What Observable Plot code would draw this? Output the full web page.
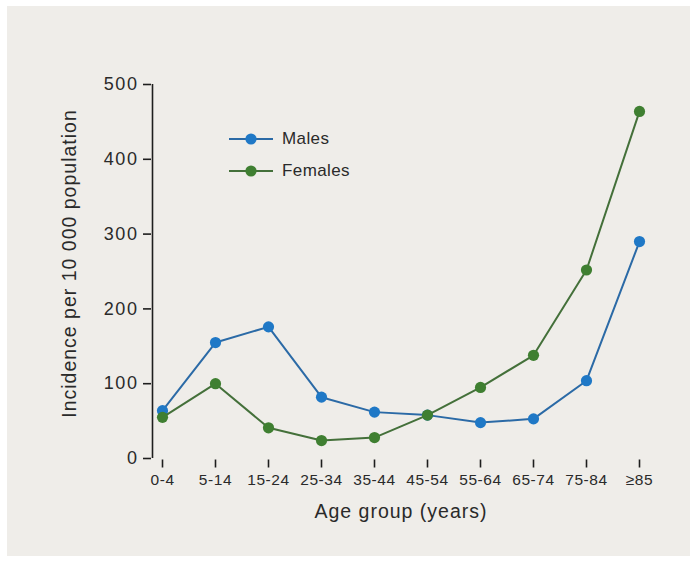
<!DOCTYPE html>
<html><head><meta charset="utf-8">
<script src="https://cdn.jsdelivr.net/npm/d3@7"></script>
<script src="https://cdn.jsdelivr.net/npm/@observablehq/plot@0.6"></script>
<style>
body{margin:0;background:#fff;}
#wrap{position:relative;width:696px;height:562px;overflow:hidden;}
#panel{position:absolute;left:7px;top:6px;width:683px;height:550px;background:#efede9;}
#chart{position:absolute;left:0;top:0;}
#legend{position:absolute;left:229px;top:123px;font-family:"Liberation Sans",Arial,sans-serif;font-size:17px;color:#2a2a2a;letter-spacing:0.4px;}
.row{display:flex;align-items:center;height:32px;}
.row svg{margin-right:9px;}
</style>
</head><body>
<div id="wrap"><div id="panel"></div><div id="chart"></div>
<div id="legend"></div></div>
<script>
const ageGroups = ["0-4","5-14","15-24","25-34","35-44","45-54","55-64","65-74","75-84","≥85"];
const males   = [64,155,176,82,62,58,48,53,104,290];
const females = [55,100,41,24,28,58,95,138,252,464];
const seriesNames = ["Males","Females"];
const dotColors = ["#1f78c6","#3f7f31"];
const lineColors = ["#2b6aa6","#44703a"];
const yTicks = [0,100,200,300,400,500];

const rows = [];
ageGroups.forEach((a,i)=>{
  rows.push({age:a, value:males[i], series:"Males"});
  rows.push({age:a, value:females[i], series:"Females"});
});

const font = '"Liberation Sans", Arial, sans-serif';
const marks = [
  Plot.ruleX([ageGroups[0]], {y1:0, y2:500, dx:-10, stroke:"#1e1e1e", strokeWidth:1.6}),
  Plot.ruleY([0], {x1:ageGroups[0], x2:ageGroups[ageGroups.length-1], dy:1.5, stroke:"#1e1e1e", strokeWidth:1.6}),
  Plot.axisY({ticks:yTicks, tickSize:8, tickPadding:5, dx:-10, stroke:"#1e1e1e", strokeWidth:1.6,
    fill:"#2a2a2a", fontSize:18, label:"Incidence per 10 000 population", labelAnchor:"center", labelArrow:"none", labelOffset:99}),
  Plot.axisX({tickSize:8, tickPadding:6, dy:1.5, stroke:"#1e1e1e", strokeWidth:1.6,
    fill:"#2a2a2a", fontSize:15.5, label:"Age group (years)", labelAnchor:"center", labelArrow:"none", labelOffset:59})
];
seriesNames.forEach((s,k)=>{
  const d = rows.filter(r=>r.series===s);
  marks.push(Plot.line(d, {x:"age", y:"value", stroke:lineColors[k], strokeWidth:2}));
  marks.push(Plot.dot(d, {x:"age", y:"value", fill:dotColors[k], r:5.6}));
});

const chart = Plot.plot({
  width:696, height:562,
  marginLeft:161, marginRight:56, marginTop:84, marginBottom:104,
  style:{background:"transparent", fontFamily:font, fontSize:"17px", color:"#2a2a2a", letterSpacing:"0.6px"},
  x:{type:"point", domain:ageGroups, padding:0},
  y:{domain:[0,500]},
  marks
});
document.getElementById("chart").appendChild(chart);

// axis tick/label font tweaks
chart.querySelectorAll("[aria-label='y-axis tick label'] text").forEach(t=>{ t.style.letterSpacing="1.6px"; });
chart.querySelectorAll("[aria-label='y-axis label'] text, [aria-label='x-axis label'] text").forEach(t=>{
  t.setAttribute("font-size","19.5"); t.style.letterSpacing="1px";
});
const yl = chart.querySelector("[aria-label='y-axis label']");
if (yl) { const tr = yl.getAttribute("transform") || ""; yl.setAttribute("transform", tr + " translate(0,-8)"); }

const leg = document.getElementById("legend");
seriesNames.forEach((s,k)=>{
  const row = document.createElement("div"); row.className="row";
  row.innerHTML = `<svg width="44" height="14"><line x1="0" y1="7" x2="44" y2="7" stroke="${lineColors[k]}" stroke-width="2"/><circle cx="22" cy="7" r="5.6" fill="${dotColors[k]}"/></svg><span>${s}</span>`;
  leg.appendChild(row);
});
</script>
</body></html>
